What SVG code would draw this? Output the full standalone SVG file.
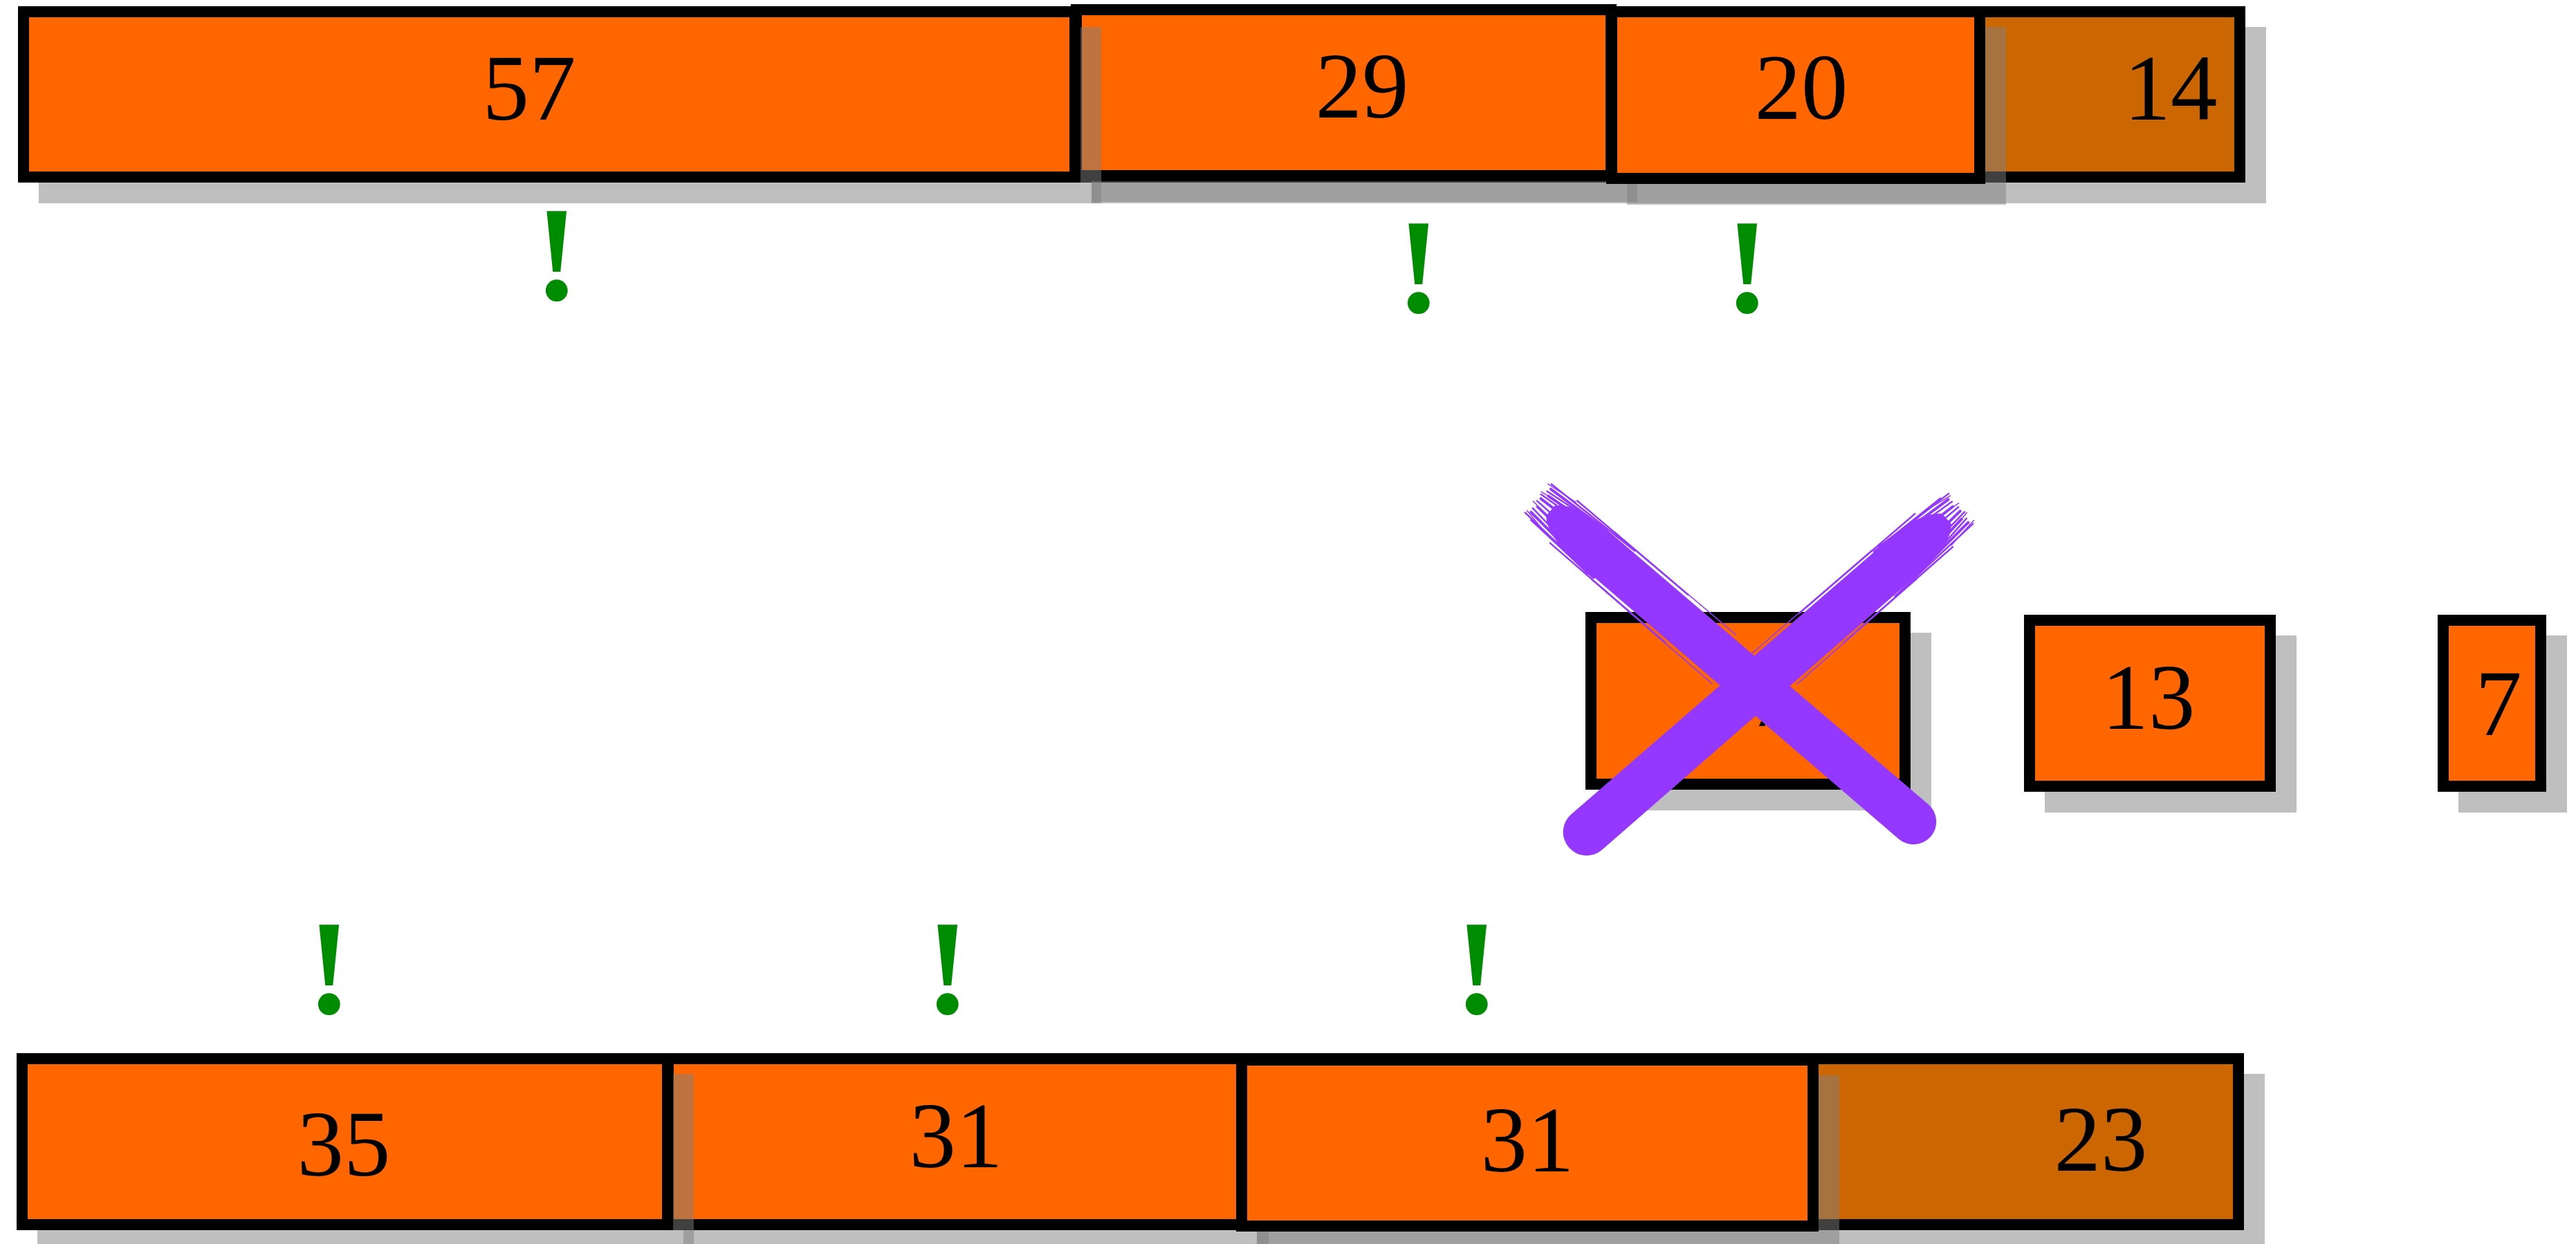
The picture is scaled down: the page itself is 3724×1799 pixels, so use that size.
<svg xmlns="http://www.w3.org/2000/svg" width="3724" height="1799" viewBox="0 0 3724 1799">
<style>
.box{fill:#ff6600;stroke:#000;stroke-width:16}
.dark{fill:#cc6600}
.sh{fill:#808080;fill-opacity:.5}
.lbl{font-family:"Liberation Serif","DejaVu Serif",serif;font-size:135px;fill:#000;text-anchor:middle}
.ex{font-family:"Liberation Serif","DejaVu Serif",serif;font-weight:bold;font-size:196px;fill:#008c00;text-anchor:middle}
.brush{fill:#9438ff}
.hair{stroke:#9438ff;fill:none;stroke-linecap:round}
</style>
<defs>
<g id="brushTip">
<path class="hair" stroke-width="4" d="M -10,-24 L 90,-31 M -6,-14 L 70,-22 M -12,-4 L 60,-8 M -8,8 L 70,12 M -10,20 L 90,28 M -2,28 L 120,33"/>
<path class="hair" stroke-width="2.5" d="M -14,-30 L 140,-35 M -12,-18 L 50,-26 M -16,-9 L 40,-14 M -14,2 L 40,3 M -12,14 L 50,20 M -16,26 L 110,34 M 30,-36 L 240,-37 M 40,36 L 260,37"/>
<path class="hair" stroke-width="1.5" d="M -18,-27 L 30,-33 M -18,-12 L 20,-18 M -18,6 L 20,10 M -16,22 L 30,30 M 100,-37 L 330,-38 M 120,37 L 350,38"/>
</g>
</defs>
<rect width="3724" height="1799" fill="#fff"/>
<g id="top-row">
<g id="n14"><rect class="sh" x="1578" y="39" width="1698" height="255"/><rect class="box dark" x="1556" y="17" width="1682" height="239"/><text class="lbl" x="3138" y="173">14</text></g>
<g id="n29"><rect class="sh" x="1578" y="36" width="789" height="256"/><rect class="box" x="1556" y="14" width="773" height="240"/><text class="lbl" x="1969" y="170">29</text></g>
<g id="n57"><rect class="sh" x="56" y="39" width="1536" height="255"/><rect class="box" x="34" y="17" width="1520" height="239"/><text class="lbl" x="765" y="173">57</text></g>
<g id="n20"><rect class="sh" x="2352" y="39" width="548" height="257"/><rect class="box" x="2330" y="17" width="532" height="241"/><text class="lbl" x="2604" y="172">20</text></g>
</g>
<g id="middle-row">
<g id="n17"><rect class="sh" x="2322" y="915" width="470" height="257"/><rect class="box" x="2300" y="893" width="454" height="241"/><text class="lbl" x="2527" y="1050">17</text></g>
<g id="n13"><rect class="sh" x="2956" y="919" width="364" height="256"/><rect class="box" x="2934" y="897" width="348" height="240"/><text class="lbl" x="3106" y="1054">13</text></g>
<g id="n7"><rect class="sh" x="3554" y="919" width="157" height="256"/><rect class="box" x="3532" y="897" width="141" height="240"/><text class="lbl" x="3612" y="1063">7</text></g>
</g>
<g id="bottom-row">
<g id="n23"><rect class="sh" x="1817" y="1553" width="1457" height="256"/><rect class="box dark" x="1795" y="1531" width="1441" height="240"/><text class="lbl" x="3037" y="1693">23</text></g>
<g id="n31a"><rect class="sh" x="988" y="1553" width="846" height="256"/><rect class="box" x="966" y="1531" width="830" height="240"/><text class="lbl" x="1382" y="1688">31</text></g>
<g id="n35"><rect class="sh" x="54" y="1553" width="949" height="256"/><rect class="box" x="32" y="1531" width="933" height="240"/><text class="lbl" x="497" y="1700">35</text></g>
<g id="n31b"><rect class="sh" x="1817" y="1555" width="842" height="256"/><rect class="box" x="1795" y="1533" width="826" height="240"/><text class="lbl" x="2208" y="1694">31</text></g>
</g>
<g id="marks">
<text class="ex" x="805" y="433">!</text>
<text class="ex" x="2051" y="451">!</text>
<text class="ex" x="2526" y="451">!</text>
<text class="ex" x="476" y="1465">!</text>
<text class="ex" x="1370" y="1465">!</text>
<text class="ex" x="2135" y="1465">!</text>
</g>
<g id="cross">
<g transform="translate(2234,732) rotate(40.6)">
<path class="brush" d="M 10,-10 C 25,-26 50,-31 90,-32 L 701,-33 A 33 33 0 0 1 701,33 L 90,32 C 50,31 25,26 10,10 Z"/>
<use href="#brushTip"/>
</g>
<g transform="translate(2822,744) rotate(139)">
<path class="brush" d="M 10,-10 C 25,-26 50,-32 90,-33 L 700,-34 A 34 34 0 0 1 700,34 L 90,33 C 50,32 25,26 10,10 Z"/>
<use href="#brushTip"/>
</g>
</g>
</svg>
